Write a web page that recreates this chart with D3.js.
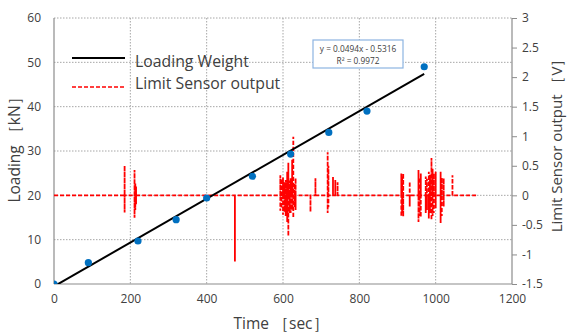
<!DOCTYPE html>
<html>
<head>
<meta charset="utf-8">
<script src="https://cdn.jsdelivr.net/npm/d3@7"></script>
<style>
  body { margin: 0; background: #fff; }
  svg text { font-family: "Open Sans", Lato, sans-serif; fill: #404040; }
</style>
</head>
<body>
<svg id="chart" width="568" height="334"></svg>
<script>
// loading measurements (time in sec, load in kN)
var loadTime = [0, 90, 220, 320, 400, 520, 620, 720, 820, 970];
var loadKN   = [0, 4.8, 9.7, 14.5, 19.4, 24.3, 29.3, 34.2, 39.0, 49.0];

// linear trend shown in the label box
var trendSlope = 0.0494, trendIntercept = -0.5316, trendR2 = 0.9972;

// limit sensor spikes: time, peak high and low (V)
var spikeTime = [185, 211, 213, 215, 474,
                 593, 596, 600, 604, 607, 611, 614, 617, 620, 624, 627, 630, 633,
                 672, 685, 717, 719, 731, 737, 743,
                 910, 912, 915, 932, 955, 958, 961, 974, 977, 982, 985, 989, 992, 995, 1000, 1013, 1016, 1021, 1044];
var spikeHigh = [0.50, 0.43, 0.20, 0.15, 0,
                 0.34, 0.28, 0.30, 0.22, 0.26, 0.40, 0.55, 0.25, 0.29, 0.60, 0.99, 0.20, 0.29,
                 0, 0.29, 0.73, 0.50, 0.31, 0.26, 0.22,
                 0.37, 0.33, 0.37, 0.23, 0.43, 0.30, 0.37, 0.32, 0.28, 0.40, 0.35, 0.63, 0.45, 0.37, 0.40, 0.40, 0.30, 0.29, 0.34];
var spikeLow  = [-0.29, -0.38, -0.25, -0.15, -1.12,
                 -0.26, -0.22, -0.33, -0.28, -0.35, -0.45, -0.69, -0.30, -0.30, -0.25, -0.38, -0.20, -0.25,
                 -0.28, 0, -0.30, -0.20, 0, 0, 0,
                 -0.36, -0.30, -0.36, -0.19, -0.45, -0.35, -0.37, -0.30, -0.25, -0.39, -0.30, -0.42, -0.35, -0.30, -0.22, -0.47, -0.35, -0.19, 0];
var sensorEnd = 1110;

var xTicks  = [0, 200, 400, 600, 800, 1000, 1200];
var yLTicks = [0, 10, 20, 30, 40, 50, 60];
var yRTicks = [-1.5, -1, -0.5, 0, 0.5, 1, 1.5, 2, 2.5, 3];

//////////////////////////////////////////////////////////////////////////////////////////

var svg = d3.select("#chart");
var m = { left: 54, right: 512, top: 18, bottom: 284 };

var x  = d3.scaleLinear().domain([0, 1200]).range([m.left, m.right]);
var yL = d3.scaleLinear().domain([0, 60]).range([m.bottom, m.top]);
var yR = d3.scaleLinear().domain([-1.5, 3]).range([m.bottom, m.top]);

svg.append("defs").append("clipPath").attr("id", "plot")
  .append("rect").attr("x", m.left).attr("y", m.top)
  .attr("width", m.right - m.left).attr("height", m.bottom - m.top);

// gridlines
var grid = svg.append("g").attr("stroke", "#a6a6a6").attr("stroke-width", 1)
  .attr("stroke-dasharray", "1.5,1.5");
grid.selectAll(".gx").data(xTicks.slice(1, -1)).enter().append("line")
  .attr("x1", function(d) { return x(d); }).attr("x2", function(d) { return x(d); })
  .attr("y1", m.top).attr("y2", m.bottom);
grid.selectAll(".gy").data(yLTicks.slice(1)).enter().append("line")
  .attr("x1", m.left).attr("x2", m.right)
  .attr("y1", function(d) { return yL(d); }).attr("y2", function(d) { return yL(d); });

var plain = function(d) { return String(d); };

// left axis
var axL = svg.append("g").attr("transform", "translate(" + m.left + ",0)")
  .call(d3.axisLeft(yL).tickValues(yLTicks).tickSize(0).tickPadding(13).tickFormat(plain));
// bottom axis
var axB = svg.append("g").attr("transform", "translate(0," + m.bottom + ")")
  .call(d3.axisBottom(x).tickValues(xTicks).tickSize(0).tickPadding(10).tickFormat(plain));
// right axis
var axR = svg.append("g").attr("transform", "translate(" + m.right + ",0)")
  .call(d3.axisRight(yR).tickValues(yRTicks).tickSize(5).tickPadding(5).tickFormat(plain));

[axL, axB, axR].forEach(function(a) {
  a.select(".domain").attr("stroke", "#8c8c8c").attr("stroke-width", 1.2);
  a.selectAll(".tick line").attr("stroke", "#8c8c8c");
  a.selectAll("text").attr("font-size", 12).attr("fill", "#404040")
    .style("font-family", "'Open Sans', sans-serif");
});
axB.select(".domain").attr("d", "M" + m.left + ",0H" + m.right);
axL.select(".domain").attr("d", "M0," + m.top + "V" + m.bottom);
axR.select(".domain").attr("d", "M0," + m.top + "V" + m.bottom);

var plot = svg.append("g").attr("clip-path", "url(#plot)");

// sensor output line, built from the spike list
var sensor = [[0, 0]];
spikeTime.forEach(function(t, i) {
  sensor.push([t, 0], [t, spikeHigh[i]], [t, spikeLow[i]], [t, 0]);
});
sensor.push([sensorEnd, 0]);

plot.append("path")
  .datum(sensor)
  .attr("fill", "none").attr("stroke", "#ff0000").attr("stroke-width", 1.8)
  .attr("stroke-dasharray", "4,2")
  .attr("d", d3.line().x(function(d) { return x(d[0]); }).y(function(d) { return yR(d[1]); }));

// trend line
var tEnd = d3.max(loadTime);
plot.append("path")
  .datum([0, tEnd])
  .attr("fill", "none").attr("stroke", "#000").attr("stroke-width", 2)
  .attr("d", d3.line().x(function(d) { return x(d); })
    .y(function(d) { return yL(trendSlope * d + trendIntercept); }));

// measured points
plot.selectAll(".pt").data(loadTime).enter().append("circle")
  .attr("cx", function(d) { return x(d); })
  .attr("cy", function(d, i) { return yL(loadKN[i]); })
  .attr("r", 3.6).attr("fill", "#0070c0");

// trend label box
var box = svg.append("g");
box.append("rect").attr("x", 313).attr("y", 40).attr("width", 90).attr("height", 28)
  .attr("fill", "#fff").attr("stroke", "#8db4e2").attr("stroke-width", 1.2);
box.append("text").attr("x", 358).attr("y", 52).attr("text-anchor", "middle")
  .attr("font-size", 8.3).attr("fill", "#595959")
  .text("y = " + trendSlope + "x - " + Math.abs(trendIntercept));
box.append("text").attr("x", 358).attr("y", 63.5).attr("text-anchor", "middle")
  .attr("font-size", 8.3).attr("fill", "#595959")
  .text("R² = " + trendR2);

// legend
var leg = svg.append("g");
leg.append("line").attr("x1", 72).attr("x2", 125).attr("y1", 58).attr("y2", 58)
  .attr("stroke", "#000").attr("stroke-width", 2);
leg.append("line").attr("x1", 72).attr("x2", 125).attr("y1", 87).attr("y2", 87)
  .attr("stroke", "#ff0000").attr("stroke-width", 1.6).attr("stroke-dasharray", "4,2");
leg.append("text").attr("x", 135).attr("y", 67).attr("font-size", 15.8).text("Loading Weight");
leg.append("text").attr("x", 135).attr("y", 89).attr("font-size", 15.8).text("Limit Sensor output");

// axis titles
svg.append("text").attr("transform", "translate(20,146) rotate(-90)")
  .attr("text-anchor", "middle").attr("font-size", 15.5).text("Loading ［kN］");
svg.append("text").attr("x", 281).attr("y", 329)
  .attr("text-anchor", "middle").attr("font-size", 15.5).text("Time ［sec］");
svg.append("text").attr("transform", "translate(562,142) rotate(-90)")
  .attr("text-anchor", "middle").attr("font-size", 15).text("Limit Sensor output ［V］");
</script>
</body>
</html>
